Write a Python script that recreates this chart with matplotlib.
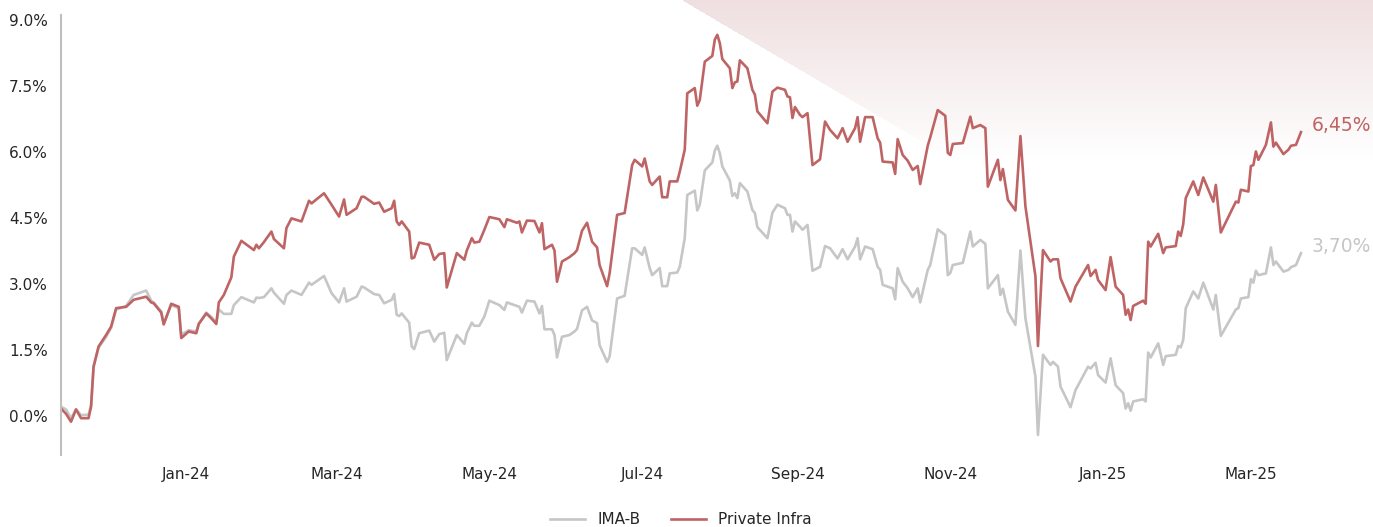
"""
Cumulative return, Private Infra vs IMA-B, rebuilt with matplotlib.
"""

import numpy as np
import pandas as pd
import matplotlib
import matplotlib.pyplot as plt
import matplotlib.dates as mdates
from matplotlib.ticker import FuncFormatter, FixedLocator

matplotlib.use('Agg')

# Data (days counted from the first point)
start_date = '2023-11-12'
day_offset = [
    0, 2, 4, 6, 8, 11, 12, 13, 15, 18, 20, 22, 26, 29, 34, 36, 37, 40, 41, 44,
    47, 48, 51, 54, 55, 58, 60, 62, 63, 65, 68, 69, 72, 77, 78, 79, 81, 84, 85, 89,
    90, 92, 96, 99, 100, 105, 108, 111, 113, 114, 118, 120, 121, 125, 127, 129, 132, 133, 134, 135,
    136, 139, 140, 141, 143, 147, 149, 151, 153, 154, 158, 161, 162, 164, 165, 167, 169, 171, 175, 177,
    178, 182, 183, 184, 186, 189, 191, 192, 193, 196, 197, 198, 200, 203, 205, 206, 208, 210, 212, 214,
    215, 218, 219, 222, 225, 228, 229, 232, 233, 235, 236, 239, 240, 242, 243, 246, 247, 249, 250, 253,
    254, 255, 257, 260, 261, 262, 263, 264, 267, 268, 269, 270, 271, 274, 276, 277, 278, 282, 284, 286,
    289, 290, 291, 292, 293, 295, 296, 298, 300, 303, 305, 307, 310, 312, 314, 317, 318, 319, 321, 324,
    326, 327, 328, 332, 333, 334, 336, 338, 340, 342, 343, 346, 347, 350, 353, 354, 355, 356, 360, 363,
    364, 367, 369, 370, 374, 375, 376, 378, 381, 383, 385, 389, 390, 392, 395, 396, 398, 399, 403, 405,
    410, 411, 413, 414, 417, 419, 421, 424, 425, 426, 427, 428, 432, 433, 434, 435, 438, 440, 441, 445,
    446, 447, 448, 449, 452, 454, 456, 460, 461, 463, 469, 470, 471, 474, 475, 476, 477, 478, 481, 483,
    484, 485, 488, 490, 491, 493, 495,
]

private_infra = [
    0.17, 0.05, -0.13, 0.15, -0.05, -0.05, 0.21, 1.12, 1.58, 1.84, 2.03, 2.45, 2.48, 2.64, 2.71, 2.58, 2.56, 2.35, 2.08, 2.55,
    2.48, 1.77, 1.92, 1.88, 2.09, 2.33, 2.22, 2.09, 2.58, 2.75, 3.15, 3.62, 3.98, 3.77, 3.89, 3.81, 3.95, 4.19, 4.02, 3.81,
    4.27, 4.49, 4.42, 4.89, 4.83, 5.06, 4.80, 4.53, 4.92, 4.57, 4.72, 4.98, 4.98, 4.82, 4.85, 4.64, 4.72, 4.89, 4.42, 4.34,
    4.42, 4.19, 3.58, 3.60, 3.94, 3.89, 3.55, 3.68, 3.70, 2.92, 3.70, 3.55, 3.76, 4.04, 3.94, 3.96, 4.23, 4.52, 4.47, 4.29,
    4.47, 4.39, 4.42, 4.17, 4.44, 4.43, 4.17, 4.38, 3.79, 3.89, 3.76, 3.05, 3.51, 3.61, 3.70, 3.77, 4.21, 4.39, 3.96, 3.83,
    3.43, 2.95, 3.24, 4.57, 4.61, 5.70, 5.82, 5.67, 5.85, 5.33, 5.25, 5.44, 4.97, 4.97, 5.33, 5.33, 5.55, 6.05, 7.33, 7.45,
    7.05, 7.18, 8.05, 8.18, 8.55, 8.66, 8.47, 8.11, 7.90, 7.45, 7.58, 7.60, 8.08, 7.90, 7.41, 7.30, 6.92, 6.65, 7.37, 7.46,
    7.41, 7.26, 7.24, 6.77, 7.02, 6.84, 6.79, 6.88, 5.70, 5.83, 6.69, 6.50, 6.31, 6.54, 6.23, 6.54, 6.79, 6.23, 6.79, 6.79,
    6.31, 6.21, 5.78, 5.76, 5.50, 6.29, 5.93, 5.80, 5.59, 5.68, 5.27, 6.14, 6.33, 6.95, 6.82, 5.98, 5.93, 6.18, 6.20, 6.80,
    6.54, 6.61, 6.54, 5.21, 5.82, 5.36, 5.61, 4.91, 4.67, 6.36, 4.76, 3.17, 1.59, 3.77, 3.51, 3.56, 3.56, 3.13, 2.60, 2.94,
    3.43, 3.18, 3.32, 3.09, 2.86, 3.61, 2.94, 2.75, 2.30, 2.42, 2.18, 2.50, 2.62, 2.55, 3.96, 3.85, 4.14, 3.70, 3.83, 3.86,
    4.19, 4.09, 4.36, 4.95, 5.33, 5.02, 5.42, 4.87, 5.25, 4.17, 4.87, 4.85, 5.14, 5.10, 5.68, 5.70, 6.01, 5.82, 6.16, 6.67,
    6.12, 6.21, 5.95, 6.05, 6.14, 6.16, 6.45,
]

ima_b = [
    0.21, 0.15, -0.05, 0.15, 0.02, 0.03, 0.25, 1.12, 1.55, 1.80, 2.00, 2.42, 2.50, 2.75, 2.85, 2.62, 2.58, 2.38, 2.10, 2.52,
    2.45, 1.85, 1.95, 1.92, 2.10, 2.35, 2.25, 2.12, 2.42, 2.32, 2.32, 2.52, 2.70, 2.58, 2.69, 2.68, 2.70, 2.90, 2.80, 2.55,
    2.75, 2.85, 2.75, 3.03, 2.98, 3.18, 2.79, 2.58, 2.90, 2.60, 2.71, 2.94, 2.92, 2.77, 2.75, 2.56, 2.64, 2.77, 2.30, 2.27,
    2.33, 2.12, 1.58, 1.52, 1.88, 1.94, 1.69, 1.86, 1.89, 1.27, 1.84, 1.64, 1.88, 2.12, 2.05, 2.05, 2.26, 2.62, 2.52, 2.41,
    2.58, 2.50, 2.48, 2.35, 2.62, 2.60, 2.33, 2.50, 1.97, 1.97, 1.84, 1.33, 1.80, 1.84, 1.92, 1.98, 2.40, 2.48, 2.17, 2.11,
    1.61, 1.23, 1.35, 2.67, 2.73, 3.81, 3.81, 3.66, 3.83, 3.36, 3.20, 3.36, 2.95, 2.95, 3.24, 3.26, 3.39, 4.04, 5.02, 5.12,
    4.67, 4.80, 5.58, 5.76, 6.03, 6.14, 5.97, 5.67, 5.35, 5.00, 5.06, 4.95, 5.29, 5.10, 4.68, 4.61, 4.29, 4.04, 4.62, 4.80,
    4.72, 4.57, 4.57, 4.19, 4.42, 4.30, 4.23, 4.34, 3.30, 3.39, 3.86, 3.81, 3.58, 3.79, 3.56, 3.85, 4.04, 3.56, 3.85, 3.79,
    3.39, 3.32, 2.98, 2.90, 2.65, 3.36, 3.05, 2.90, 2.70, 2.90, 2.58, 3.32, 3.43, 4.24, 4.11, 3.20, 3.25, 3.43, 3.48, 4.19,
    3.85, 4.00, 3.91, 2.90, 3.20, 2.75, 2.89, 2.37, 2.07, 3.76, 2.22, 0.89, -0.43, 1.39, 1.16, 1.23, 1.12, 0.67, 0.20, 0.59,
    1.12, 1.08, 1.21, 0.93, 0.76, 1.31, 0.70, 0.52, 0.17, 0.29, 0.12, 0.33, 0.38, 0.33, 1.44, 1.33, 1.65, 1.16, 1.36, 1.39,
    1.59, 1.56, 1.73, 2.45, 2.83, 2.67, 3.03, 2.42, 2.75, 1.82, 2.42, 2.45, 2.67, 2.70, 3.11, 3.03, 3.30, 3.20, 3.24, 3.83,
    3.43, 3.51, 3.28, 3.32, 3.38, 3.43, 3.70,
]

y_ticks = [0.0, 1.5, 3.0, 4.5, 6.0, 7.5, 9.0]

RED = '#bf6464'
GRAY = '#c6c6c6'
TEXT = '#262626'

plt.rcParams['font.family'] = ['DejaVu Sans']
plt.rcParams['font.size'] = 11

dates = pd.Timestamp(start_date) + pd.to_timedelta(day_offset, unit='D')

fig = plt.figure(figsize=(13.73, 5.27), dpi=100)

# pinkish fade in the top right corner, behind the plot
bg = fig.add_axes([0, 0, 1, 1], zorder=0)
bg.set_axis_off()
h, w = 527, 1373
yy, xx = np.mgrid[0:h, 0:w]
alpha = np.clip(1 - yy / 160.0, 0, 1) * (yy < (xx - 682) * 0.59)
img = np.zeros((h, w, 4))
img[..., 0] = 0.94
img[..., 1] = 0.875
img[..., 2] = 0.88
img[..., 3] = alpha
bg.imshow(img, extent=[0, 1, 0, 1], aspect='auto', origin='upper')
bg.set_xlim(0, 1)
bg.set_ylim(0, 1)

ax = fig.add_axes([61 / 1373, 72 / 527, 1249 / 1373, 440 / 527], zorder=1)
ax.patch.set_alpha(0)

ax.plot(dates, ima_b, color=GRAY, lw=1.9, label='IMA-B')
ax.plot(dates, private_infra, color=RED, lw=1.9, label='Private Infra')

ax.set_xlim(pd.Timestamp(start_date), pd.Timestamp(start_date) + pd.Timedelta(days=498.6))
ax.set_ylim(-0.886, 9.11)

ax.yaxis.set_major_locator(FixedLocator(y_ticks))
ax.yaxis.set_major_formatter(FuncFormatter(lambda v, p: f'{v:.1f}%'))
ax.xaxis.set_major_locator(mdates.MonthLocator(bymonth=[1, 3, 5, 7, 9, 11]))
ax.xaxis.set_major_formatter(mdates.DateFormatter('%b-%y'))

for side in ['top', 'right', 'bottom']:
    ax.spines[side].set_visible(False)
ax.spines['left'].set_color('#bfbfbf')
ax.spines['left'].set_linewidth(1.5)
ax.tick_params(axis='both', length=0, colors=TEXT, labelsize=11)
ax.tick_params(axis='y', pad=9.5)
ax.tick_params(axis='x', pad=8.5)

# end-of-series labels
ax.annotate(f'{private_infra[-1]:.2f}%'.replace('.', ','), (dates[-1], private_infra[-1]),
            xytext=(7.5, 4.5), textcoords='offset points', va='center', ha='left',
            color=RED, fontsize=13.5, annotation_clip=False)
ax.annotate(f'{ima_b[-1]:.2f}%'.replace('.', ','), (dates[-1], ima_b[-1]),
            xytext=(7.5, 5), textcoords='offset points', va='center', ha='left',
            color=GRAY, fontsize=13.5, annotation_clip=False)

fig.legend(loc='center', bbox_to_anchor=(0.496, 0.014), ncol=2, frameon=False,
           handlelength=2.3, columnspacing=2.0, fontsize=11, labelcolor=TEXT)

fig.savefig('out.png', dpi=100)
